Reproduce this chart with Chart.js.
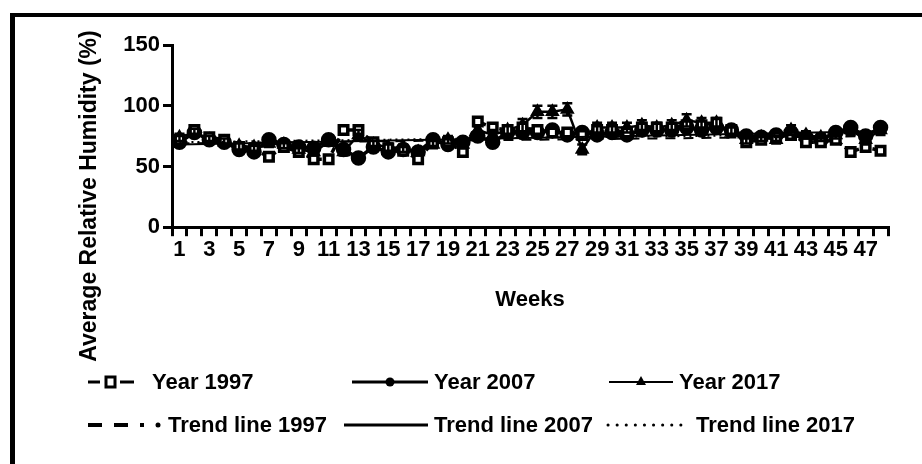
<!DOCTYPE html>
<html>
<head>
<meta charset="utf-8">
<script src="https://cdn.jsdelivr.net/npm/chart.js@4.4.1/dist/chart.umd.min.js"></script>
<style>
  body { margin: 0; background: #fff; }
  #wrap { position: relative; width: 922px; height: 464px; overflow: hidden; font-family: "Liberation Sans", Arial, sans-serif; font-weight: bold; color: #000; }
  #frame { position: absolute; left: 10px; top: 13px; right: -10px; bottom: -10px; border-left: 5px solid #000; border-top: 4px solid #000; }
  #ytitle { position: absolute; left: 88px; top: 196px; transform: translate(-50%, -50%) rotate(-90deg); white-space: nowrap; font-size: 23px; }
  .lg { position: absolute; font-size: 22px; white-space: nowrap; display: flex; align-items: center; }
  .lg svg { display: block; margin-right: 4px; }
  canvas { position: absolute; left: 0; top: 0; }
</style>
</head>
<body>
<div id="wrap">
  <canvas id="chart" width="922" height="464"></canvas>
  <div id="frame"></div>
  <div id="ytitle">Average Relative Humidity (%)</div>
  <div class="lg" style="left:86px;top:369px"><svg width="62" height="20"><line x1="2" y1="10" x2="14" y2="10" stroke="#000" stroke-width="3"/><line x1="34" y1="10" x2="48" y2="10" stroke="#000" stroke-width="3"/><rect x="20" y="5" width="9" height="10" fill="#fff" stroke="#000" stroke-width="3"/></svg>Year 1997</div>
  <div class="lg" style="left:352px;top:369px"><svg width="78" height="20"><line x1="0" y1="10" x2="76" y2="10" stroke="#000" stroke-width="3"/><circle cx="38" cy="10" r="4.5" fill="#000"/></svg>Year 2007</div>
  <div class="lg" style="left:609px;top:369px"><svg width="66" height="20"><line x1="0" y1="10" x2="64" y2="10" stroke="#000" stroke-width="2"/><polygon points="32,4 37,13 27,13" fill="#000"/></svg>Year 2017</div>
  <div class="lg" style="left:86px;top:412px"><svg width="78" height="20"><line x1="2" y1="10" x2="58" y2="10" stroke="#000" stroke-width="4" stroke-dasharray="14,12"/><circle cx="72" cy="10" r="2.5" fill="#000"/></svg>Trend line 1997</div>
  <div class="lg" style="left:344px;top:412px"><svg width="86" height="20"><line x1="0" y1="10" x2="84" y2="10" stroke="#000" stroke-width="3"/></svg>Trend line 2007</div>
  <div class="lg" style="left:606px;top:412px"><svg width="86" height="20"><line x1="2" y1="10" x2="80" y2="10" stroke="#000" stroke-width="3" stroke-dasharray="0.1,9" stroke-linecap="round"/></svg>Trend line 2017</div>
</div>
<script>
const weeks = Array.from({ length: 48 }, (_, i) => String(i + 1));

const year1997 = [72, 80, 74, 72, 66, 64, 58, 66, 62, 56, 56, 80, 80, 70, 65, 63, 56, 70, 70, 62, 87, 82, 80, 82,
                  80, 78, 78, 76, 80, 80, 78, 82, 82, 82, 84, 84, 86, 80, 70, 72, 74, 76, 70, 70, 72, 62, 66, 63];
const year2007 = [70, 78, 72, 70, 64, 62, 72, 68, 66, 65, 72, 64, 57, 66, 62, 64, 62, 72, 68, 70, 75, 70, 78, 78,
                  78, 80, 76, 78, 76, 78, 76, 80, 80, 80, 82, 80, 82, 80, 75, 74, 76, 78, 74, 72, 78, 82, 75, 82];
const year2017 = [74, 78, 72, 70, 67, 66, 69, 68, 64, 62, 70, 62, 76, 68, 66, 65, 62, 68, 72, 68, 80, 76, 80, 84,
                  95, 95, 97, 64, 82, 82, 82, 84, 82, 84, 88, 86, 86, 78, 72, 74, 72, 80, 76, 74, 76, 80, 72, 80];
const error2017 = [3, 3, 3, 3, 3, 3, 3, 3, 3, 3, 3, 3, 4, 3, 3, 3, 3, 3, 3, 3, 4, 4, 4, 5,
                   5, 5, 5, 4, 4, 4, 4, 4, 4, 4, 5, 4, 4, 4, 3, 3, 3, 4, 3, 3, 3, 4, 4, 4];

// trend lines: [value at week 1, value at week 48]
const trend1997 = [69, 75];
const trend2007 = [68, 79];
const trend2017 = [70, 77];

const trendPoints = (t) => [{ x: weeks[0], y: t[0] }, { x: weeks[weeks.length - 1], y: t[1] }];

const errorBars = {
  id: "errorBars",
  afterDatasetsDraw(chart) {
    const ctx = chart.ctx;
    const yScale = chart.scales.y;
    chart.data.datasets.forEach((ds, i) => {
      if (!ds.errors) return;
      const meta = chart.getDatasetMeta(i);
      ctx.save();
      ctx.strokeStyle = "#000";
      ctx.lineWidth = 2.5;
      meta.data.forEach((pt, j) => {
        const v = ds.data[j];
        const e = ds.errors[j];
        const top = yScale.getPixelForValue(v + e);
        const bot = yScale.getPixelForValue(v - e);
        ctx.beginPath();
        ctx.moveTo(pt.x, top); ctx.lineTo(pt.x, bot);
        ctx.moveTo(pt.x - 5, top); ctx.lineTo(pt.x + 5, top);
        ctx.moveTo(pt.x - 5, bot); ctx.lineTo(pt.x + 5, bot);
        ctx.stroke();
      });
      ctx.restore();
    });
  },
};

const tickFont = { family: "Liberation Sans", size: 22, weight: "bold" };

new Chart(document.getElementById("chart"), {
  type: "line",
  data: {
    labels: weeks,
    datasets: [
      {
        label: "Trend line 1997", data: trendPoints(trend1997), borderColor: "#000", borderWidth: 2,
        borderDash: [10, 8], pointRadius: 0, fill: false,
      },
      {
        label: "Trend line 2007", data: trendPoints(trend2007), borderColor: "#000", borderWidth: 2,
        pointRadius: 0, fill: false,
      },
      {
        label: "Trend line 2017", data: trendPoints(trend2017), borderColor: "#000", borderWidth: 2,
        borderDash: [2, 4], pointRadius: 0, fill: false,
      },
      {
        label: "Year 1997", data: year1997, borderColor: "#000", borderWidth: 3.5, borderDash: [6, 4],
        pointStyle: "rect", pointRadius: 6, pointBackgroundColor: "#fff", pointBorderColor: "#000",
        pointBorderWidth: 3.5, tension: 0,
      },
      {
        label: "Year 2007", data: year2007, borderColor: "#000", borderWidth: 3.5,
        pointStyle: "circle", pointRadius: 6, pointBackgroundColor: "#000", pointBorderColor: "#000", tension: 0,
      },
      {
        label: "Year 2017", data: year2017, errors: error2017, borderColor: "#000", borderWidth: 2.5,
        pointStyle: "triangle", pointRadius: 6, pointBackgroundColor: "#000", pointBorderColor: "#000", tension: 0,
      },
    ],
  },
  options: {
    responsive: false,
    animation: false,
    layout: { padding: { left: 72, top: 45, right: 34, bottom: 147 } },
    plugins: { legend: { display: false }, tooltip: { enabled: false } },
    scales: {
      x: {
        type: "category",
        offset: true,
        grid: { offset: true, drawOnChartArea: false, drawTicks: true, tickLength: 9, lineWidth: 3, color: "#000" },
        border: { color: "#000", width: 3 },
        ticks: {
          autoSkip: false, maxRotation: 0, padding: 1, color: "#000", font: tickFont,
          callback: (v, i) => (i % 2 === 0 ? weeks[i] : ""),
        },
        title: { display: true, text: "Weeks", color: "#000", font: tickFont, padding: { top: 22, bottom: 4 } },
      },
      y: {
        min: 0, max: 150,
        afterFit: (scale) => { scale.width = 100; },
        grid: { drawOnChartArea: false, drawTicks: true, tickLength: 9, lineWidth: 3, color: "#000" },
        border: { color: "#000", width: 3 },
        ticks: { stepSize: 50, padding: 3, color: "#000", font: tickFont },
      },
    },
  },
  plugins: [errorBars],
});
</script>
</body>
</html>
